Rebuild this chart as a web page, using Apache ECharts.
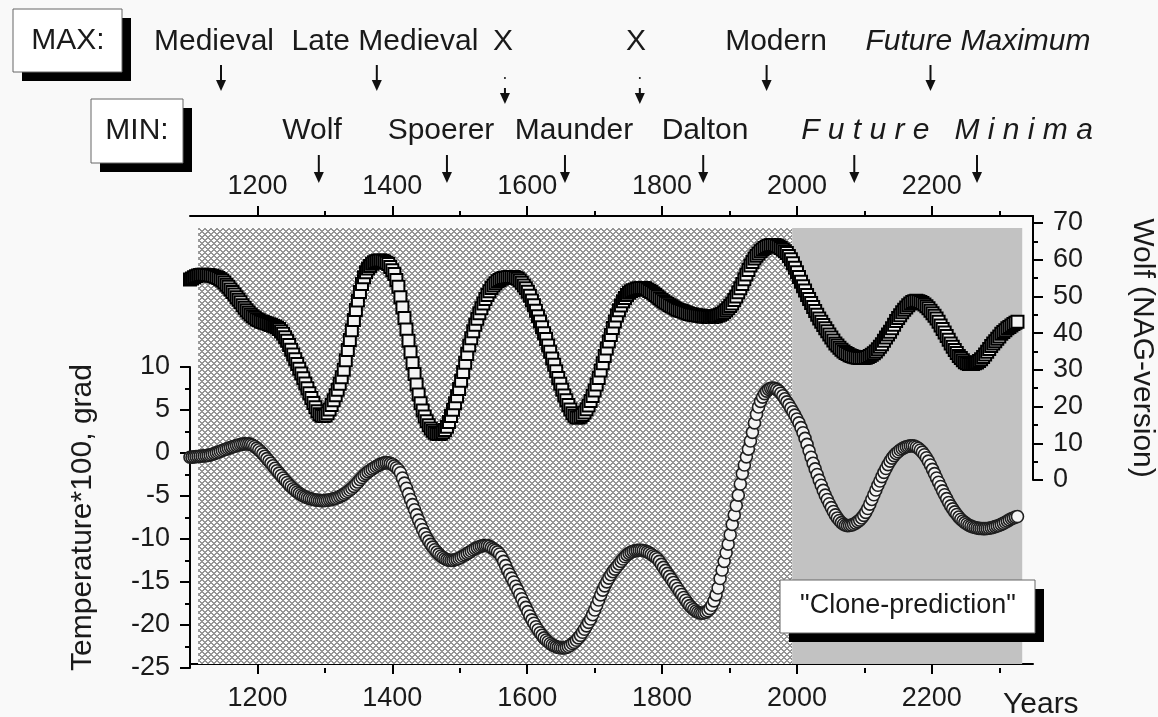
<!DOCTYPE html>
<html>
<head>
<meta charset="utf-8">
<title>Clone-prediction</title>
<script src="https://cdn.jsdelivr.net/npm/echarts@6/dist/echarts.min.js"></script>
<style>
  html, body { margin: 0; padding: 0; background: #f9f9f9; }
  #chart { width: 1158px; height: 717px; }
</style>
</head>
<body>
<div id="chart"></div>
<script>
// one reading every 3 years, 1100 .. 2327
const startYear = 1100;
const yearStep = 3;

// Wolf number (NAG-version), right axis
const wolf = [
  54.6, 54.9, 55.2, 55.5, 55.7, 55.8, 55.9, 55.9, 55.8, 55.8,
  55.7, 55.6, 55.4, 55.2, 55.0, 54.7, 54.3, 53.8, 53.2, 52.6,
  51.9, 51.2, 50.5, 49.8, 49.1, 48.4, 47.6, 46.9, 46.2, 45.6,
  45.1, 44.6, 44.2, 43.8, 43.5, 43.2, 43.0, 42.8, 42.6, 42.4,
  42.2, 42.0, 41.8, 41.5, 41.1, 40.5, 39.8, 38.9, 37.9, 36.8,
  35.5, 34.2, 32.9, 31.6, 30.3, 29.0, 27.7, 26.3, 25.0, 23.6,
  22.3, 21.0, 19.8, 18.7, 17.9, 17.5, 17.4, 17.6, 18.2, 19.2,
  20.4, 21.7, 23.1, 24.6, 26.2, 28.0, 30.0, 32.6, 35.4, 38.1,
  40.8, 43.6, 46.3, 48.9, 51.2, 53.4, 55.2, 56.6, 57.6, 58.3,
  58.9, 59.3, 59.6, 59.7, 59.8, 59.7, 59.5, 59.2, 58.8, 58.0,
  57.1, 56.1, 54.5, 52.6, 49.8, 47.0, 44.1, 41.0, 37.9, 34.8,
  31.8, 28.9, 26.0, 23.3, 20.9, 18.9, 17.3, 16.0, 14.9, 14.0,
  13.4, 12.9, 12.6, 12.5, 12.6, 13.0, 13.6, 14.5, 15.8, 17.4,
  19.1, 20.9, 22.8, 24.8, 27.0, 29.4, 31.9, 34.3, 36.6, 38.6,
  40.5, 42.3, 43.9, 45.4, 46.8, 48.1, 49.3, 50.4, 51.4, 52.3,
  53.0, 53.6, 54.1, 54.5, 54.8, 55.0, 55.1, 55.2, 55.3, 55.3,
  55.3, 55.1, 54.8, 54.3, 53.7, 53.0, 52.2, 51.3, 50.2, 48.9,
  47.6, 46.1, 44.6, 43.2, 41.6, 40.0, 38.4, 36.6, 34.9, 33.1,
  31.4, 29.6, 27.8, 26.2, 24.6, 23.0, 21.7, 20.4, 19.2, 18.2,
  17.5, 17.0, 17.0, 17.2, 17.7, 18.4, 19.3, 20.3, 21.5, 22.9,
  24.4, 26.0, 27.8, 29.8, 31.8, 33.8, 35.8, 37.7, 39.5, 41.4,
  43.2, 44.8, 46.2, 47.5, 48.7, 49.6, 50.4, 51.0, 51.4, 51.7,
  51.9, 52.1, 52.2, 52.3, 52.3, 52.2, 51.9, 51.5, 51.2, 50.8,
  50.4, 50.0, 49.5, 49.1, 48.7, 48.3, 48.0, 47.6, 47.3, 47.0,
  46.7, 46.4, 46.2, 46.0, 45.8, 45.6, 45.4, 45.2, 45.1, 45.0,
  44.9, 44.8, 44.7, 44.6, 44.5, 44.5, 44.4, 44.4, 44.4, 44.5,
  44.6, 44.8, 45.0, 45.3, 45.7, 46.2, 46.8, 47.4, 48.1, 49.0,
  50.0, 51.1, 52.2, 53.4, 54.7, 56.0, 57.2, 58.4, 59.4, 60.3,
  61.1, 61.7, 62.3, 62.8, 63.2, 63.5, 63.8, 63.9, 64.0, 64.0,
  63.8, 63.6, 63.2, 62.8, 62.3, 61.8, 61.0, 60.1, 59.0, 57.8,
  56.6, 55.3, 54.0, 52.8, 51.6, 50.4, 49.3, 48.2, 47.1, 46.0,
  45.0, 44.0, 43.1, 42.2, 41.3, 40.5, 39.6, 38.8, 38.0, 37.2,
  36.6, 36.0, 35.5, 35.0, 34.6, 34.3, 34.0, 33.8, 33.6, 33.4,
  33.3, 33.2, 33.2, 33.2, 33.3, 33.5, 33.8, 34.1, 34.5, 35.0,
  35.6, 36.3, 37.0, 37.9, 38.8, 39.6, 40.4, 41.3, 42.3, 43.3,
  44.1, 44.9, 45.7, 46.4, 47.0, 47.6, 48.1, 48.5, 48.7, 48.8,
  48.7, 48.5, 48.2, 47.8, 47.3, 46.8, 46.1, 45.4, 44.7, 44.0,
  43.1, 42.1, 41.1, 40.2, 39.2, 38.2, 37.2, 36.3, 35.4, 34.6,
  33.8, 33.2, 32.6, 32.1, 31.8, 31.6, 31.6, 31.6, 31.8, 32.0,
  32.4, 32.9, 33.5, 34.2, 34.9, 35.7, 36.5, 37.2, 37.8, 38.5,
  39.1, 39.8, 40.3, 40.8, 41.3, 41.7, 42.1, 42.5, 42.8, 43.1
];

// Temperature*100, grad, left axis
const temperature = [
  -0.5, -0.48, -0.45, -0.42, -0.4, -0.37, -0.35, -0.33, -0.3, -0.28,
  -0.22, -0.15, -0.07, 0.02, 0.11, 0.2, 0.29, 0.38, 0.46, 0.55,
  0.63, 0.71, 0.79, 0.86, 0.93, 0.99, 1.03, 1.06, 1.07, 1.06,
  1.0, 0.9, 0.75, 0.57, 0.37, 0.15, -0.1, -0.37, -0.65, -0.93,
  -1.2, -1.49, -1.78, -2.06, -2.34, -2.62, -2.9, -3.17, -3.43, -3.7,
  -3.93, -4.15, -4.35, -4.53, -4.7, -4.85, -4.98, -5.1, -5.2, -5.28,
  -5.35, -5.41, -5.46, -5.5, -5.53, -5.54, -5.54, -5.52, -5.49, -5.45,
  -5.4, -5.34, -5.27, -5.18, -5.07, -4.95, -4.81, -4.65, -4.48, -4.3,
  -4.1, -3.88, -3.64, -3.38, -3.1, -2.85, -2.6, -2.4, -2.2, -2.04,
  -1.88, -1.72, -1.57, -1.44, -1.32, -1.22, -1.15, -1.12, -1.13, -1.2,
  -1.3, -1.5, -1.72, -1.95, -2.3, -2.9, -3.5, -4.1, -4.75, -5.4,
  -6.0, -6.6, -7.2, -7.8, -8.35, -8.9, -9.4, -9.85, -10.25, -10.62,
  -10.95, -11.25, -11.52, -11.76, -11.97, -12.15, -12.3, -12.4, -12.47, -12.5,
  -12.48, -12.42, -12.34, -12.24, -12.12, -11.98, -11.84, -11.7, -11.55, -11.4,
  -11.25, -11.12, -11.0, -10.9, -10.82, -10.77, -10.75, -10.77, -10.85, -11.0,
  -11.15, -11.3, -11.5, -11.75, -12.1, -12.6, -13.1, -13.65, -14.1, -14.55,
  -15.0, -15.5, -15.95, -16.45, -16.95, -17.45, -17.95, -18.45, -18.95, -19.4,
  -19.8, -20.2, -20.55, -20.9, -21.2, -21.5, -21.75, -21.95, -22.15, -22.3,
  -22.42, -22.52, -22.6, -22.65, -22.68, -22.66, -22.6, -22.5, -22.35, -22.15,
  -22.0, -21.78, -21.5, -21.2, -20.85, -20.5, -20.1, -19.7, -19.3, -18.8,
  -18.25, -17.7, -17.1, -16.5, -15.95, -15.45, -14.98, -14.55, -14.15, -13.8,
  -13.5, -13.2, -12.9, -12.6, -12.32, -12.07, -11.85, -11.67, -11.53, -11.43,
  -11.36, -11.32, -11.3, -11.3, -11.33, -11.4, -11.5, -11.62, -11.78, -11.95,
  -12.1, -12.3, -12.6, -12.95, -13.3, -13.65, -14.0, -14.35, -14.7, -15.05,
  -15.4, -15.75, -16.1, -16.45, -16.8, -17.12, -17.45, -17.75, -18.0, -18.2,
  -18.38, -18.52, -18.6, -18.63, -18.6, -18.5, -18.35, -18.1, -17.7, -17.2,
  -16.5, -15.7, -14.6, -13.6, -12.6, -11.6, -10.6, -9.5, -8.3, -7.2,
  -6.1, -4.9, -3.6, -2.4, -1.4, -0.45, 0.45, 1.4, 2.4, 3.5,
  4.5, 5.35, 6.0, 6.5, 6.9, 7.2, 7.4, 7.52, 7.56, 7.52,
  7.4, 7.22, 6.95, 6.65, 6.3, 5.95, 5.6, 5.2, 4.8, 4.4,
  3.95, 3.5, 2.95, 2.35, 1.7, 1.0, 0.25, -0.5, -1.2, -1.85,
  -2.5, -3.15, -3.75, -4.35, -4.9, -5.4, -5.9, -6.35, -6.8, -7.2,
  -7.55, -7.85, -8.1, -8.28, -8.4, -8.45, -8.43, -8.38, -8.28, -8.15,
  -7.98, -7.8, -7.55, -7.25, -6.9, -6.45, -5.95, -5.4, -4.85, -4.3,
  -3.75, -3.25, -2.75, -2.25, -1.8, -1.35, -0.95, -0.6, -0.3, -0.05,
  0.15, 0.35, 0.5, 0.62, 0.72, 0.79, 0.83, 0.84, 0.8, 0.7,
  0.55, 0.35, 0.1, -0.2, -0.55, -0.95, -1.4, -1.9, -2.4, -2.9,
  -3.4, -3.9, -4.4, -4.85, -5.3, -5.75, -6.15, -6.5, -6.85, -7.15,
  -7.45, -7.7, -7.9, -8.1, -8.25, -8.4, -8.5, -8.6, -8.67, -8.72,
  -8.76, -8.78, -8.79, -8.79, -8.78, -8.75, -8.7, -8.64, -8.56, -8.48,
  -8.4, -8.3, -8.18, -8.05, -7.92, -7.78, -7.65, -7.55, -7.45, -7.38
];

// axis ticks
const yearTicks = [1200, 1400, 1600, 1800, 2000, 2200];
const yearMinorTicks = [1300, 1500, 1700, 1900, 2100, 2300];
const wolfTicks = [0, 10, 20, 30, 40, 50, 60, 70];
const wolfMinorTicks = [5, 15, 25, 35, 45, 55, 65];

// hatched = reconstruction, gray = "clone-prediction"
const historyStart = 1112;
const predictionStart = 1993;
const predictionEnd = 2334;

// arrows above the chart (years they point to)
const maxArrowYears = [1146, 1377, 1955, 2198];
const xArrowYears = [1567, 1767];
const minArrowYears = [1291, 1481, 1656, 1861, 2085, 2267];

const FONT = '"Liberation Sans", Arial, sans-serif';
const INK = '#1a1a1a';

// cross-hatch tile for the reconstructed period (pixel lattice, 6px period)
const makeHatch = () => {
  const s = 6;
  const c = document.createElement('canvas');
  c.width = s;
  c.height = s;
  const g = c.getContext('2d');
  for (let i = 0; i < s; i++) {
    for (let j = 0; j < s; j++) {
      const a = ((i - j) % s + s) % s;
      const b = (i + j) % s;
      g.fillStyle = (a < 2 || b < 2) ? '#959595' : '#fdfdfd';
      g.fillRect(i, j, 1, 1);
    }
  }
  return c;
};

const toPairs = (arr) => arr.map((v, i) => [startYear + i * yearStep, v]);

const chartDom = document.getElementById('chart');
const chart = echarts.init(chartDom, null, { renderer: 'canvas' });

const tickStyle = { color: '#000', width: 2 };
const labelStyle = { fontSize: 27, color: INK, fontFamily: FONT, formatter: (v) => String(v) };
const xBase = { type: 'value', min: 1100, max: 2350, splitLine: { show: false } };
const gridBase = { left: 190, right: 125, containLabel: false, outerBoundsMode: 'none' };

const option = {
  backgroundColor: '#f9f9f9',
  animation: false,
  grid: [
    { ...gridBase, top: 216, bottom: 49 },
    { ...gridBase, top: 367, bottom: 49 },
    { ...gridBase, top: 216, bottom: 237 }
  ],
  xAxis: [
    {
      ...xBase, gridIndex: 0, position: 'bottom',
      axisLine: { lineStyle: tickStyle },
      axisTick: { customValues: yearTicks, length: 10, lineStyle: tickStyle },
      axisLabel: { customValues: yearTicks, margin: 17, ...labelStyle }
    },
    {
      ...xBase, gridIndex: 0, position: 'top',
      axisLine: { lineStyle: tickStyle },
      axisTick: { customValues: yearTicks, length: 10, lineStyle: tickStyle },
      axisLabel: { customValues: yearTicks, margin: 16, ...labelStyle }
    },
    {
      ...xBase, gridIndex: 0, position: 'bottom',
      axisLine: { show: false },
      axisTick: { customValues: yearMinorTicks, length: 5, lineStyle: tickStyle },
      axisLabel: { show: false }
    },
    {
      ...xBase, gridIndex: 0, position: 'top',
      axisLine: { show: false },
      axisTick: { customValues: yearMinorTicks, length: 5, lineStyle: tickStyle },
      axisLabel: { show: false }
    },
    { ...xBase, gridIndex: 1, show: false },
    { ...xBase, gridIndex: 2, show: false }
  ],
  yAxis: [
    { type: 'value', gridIndex: 0, show: false, min: -0.0092, max: 1.0275 },
    {
      type: 'value', gridIndex: 1, position: 'left',
      min: -25, max: 10, interval: 5,
      splitLine: { show: false },
      axisLine: { show: true, lineStyle: tickStyle },
      axisTick: { show: true, length: 10, lineStyle: tickStyle },
      minorTick: { show: true, splitNumber: 2, length: 5, lineStyle: tickStyle },
      axisLabel: { margin: 20, ...labelStyle },
      name: 'Temperature*100, grad',
      nameLocation: 'middle',
      nameRotate: 90,
      nameGap: 92,
      nameTextStyle: { fontSize: 30, color: INK, fontFamily: FONT }
    },
    {
      type: 'value', gridIndex: 2, position: 'right',
      min: 0, max: 71.9,
      splitLine: { show: false },
      axisLine: { show: true, lineStyle: tickStyle },
      axisTick: { show: true, customValues: wolfTicks, length: 10, lineStyle: tickStyle },
      axisLabel: { customValues: wolfTicks, margin: 20, ...labelStyle },
      name: 'Wolf (NAG-version)',
      nameLocation: 'middle',
      nameRotate: -90,
      nameGap: 94,
      nameTextStyle: { fontSize: 30, color: INK, fontFamily: FONT }
    },
    {
      type: 'value', gridIndex: 2, position: 'right',
      min: 0, max: 71.9,
      splitLine: { show: false },
      axisLine: { show: false },
      axisTick: { show: true, customValues: wolfMinorTicks, length: 5, lineStyle: tickStyle },
      axisLabel: { show: false }
    }
  ],
  series: [
    {
      name: 'periods',
      type: 'scatter',
      xAxisIndex: 0,
      yAxisIndex: 0,
      data: [],
      z: 1,
      silent: true,
      markArea: {
        silent: true,
        data: [
          [
            { xAxis: historyStart, yAxis: 0, itemStyle: { color: { image: makeHatch(), repeat: 'repeat' }, opacity: 1 } },
            { xAxis: predictionStart, yAxis: 1 }
          ],
          [
            { xAxis: predictionStart, yAxis: 0, itemStyle: { color: '#c2c2c2', opacity: 1 } },
            { xAxis: predictionEnd, yAxis: 1 }
          ]
        ]
      }
    },
    {
      name: 'Wolf',
      type: 'scatter',
      xAxisIndex: 5,
      yAxisIndex: 2,
      data: toPairs(wolf),
      symbol: 'rect',
      symbolSize: 12,
      clip: false,
      silent: true,
      z: 3,
      itemStyle: { color: '#f4f4f4', borderColor: '#000', borderWidth: 2, opacity: 1 }
    },
    {
      name: 'Temperature',
      type: 'scatter',
      xAxisIndex: 4,
      yAxisIndex: 1,
      data: toPairs(temperature),
      symbol: 'circle',
      symbolSize: 12,
      clip: false,
      silent: true,
      z: 3,
      itemStyle: { color: '#f4f4f4', borderColor: '#1e1e1e', borderWidth: 1.6, opacity: 1 }
    }
  ]
};

chart.setOption(option);

// annotation layer: labels, shadow boxes, arrows
const arrow = (x, y0, y1) => ({
  type: 'group',
  z: 100,
  children: [
    { type: 'line', shape: { x1: x, y1: y0, x2: x, y2: y1 - 9 }, style: { stroke: '#111', lineWidth: 2 } },
    { type: 'polygon', shape: { points: [[x - 5, y1 - 11], [x + 5, y1 - 11], [x, y1]] }, style: { fill: '#111' } }
  ]
});

const label = (text, x, y, size, italic) => ({
  type: 'text',
  z: 100,
  x: x,
  y: y,
  style: {
    text: text,
    font: (italic ? 'italic ' : '') + size + 'px ' + FONT,
    fill: INK,
    align: 'center',
    verticalAlign: 'middle'
  }
});

const shadowBox = (x, y, w, h) => ([
  { type: 'rect', z: 99, shape: { x: x + 9, y: y + 9, width: w, height: h }, style: { fill: '#000' } },
  { type: 'rect', z: 99, shape: { x: x, y: y, width: w, height: h }, style: { fill: '#fff', stroke: '#666', lineWidth: 1 } }
]);

const px = (year) => chart.convertToPixel({ xAxisIndex: 0 }, year);

const graphics = [
  ...shadowBox(13, 9, 109, 63),
  label('MAX:', 68, 41, 30),
  ...shadowBox(91, 99, 92, 64),
  label('MIN:', 137, 131, 30),
  label('Medieval', 214, 42, 30),
  label('Late Medieval', 385, 42, 30),
  label('X', 503, 42, 30),
  label('X', 636, 42, 30),
  label('Modern', 776, 42, 30),
  label('Future Maximum', 978, 42, 30, true),
  label('Wolf', 312, 131, 30),
  label('Spoerer', 441, 131, 30),
  label('Maunder', 574, 131, 30),
  label('Dalton', 705, 131, 30),
  label('F u t u r e   M i n i m a', 947, 131, 30, true),
  ...shadowBox(780, 580, 255, 53),
  label('"Clone-prediction"', 908, 606, 27),
  {
    type: 'text', z: 100, x: 1003, y: 705,
    style: { text: 'Years', font: '30px ' + FONT, fill: INK, align: 'left', verticalAlign: 'middle' }
  }
];

maxArrowYears.forEach((y) => graphics.push(arrow(px(y), 65, 91)));
minArrowYears.forEach((y) => graphics.push(arrow(px(y), 155, 183)));
xArrowYears.forEach((y) => {
  const x = px(y);
  graphics.push({ type: 'circle', z: 100, shape: { cx: x, cy: 78, r: 1 }, style: { fill: '#111' } });
  graphics.push(arrow(x, 88, 104));
});

chart.setOption({ graphic: graphics });

window.addEventListener('resize', () => chart.resize());
</script>
</body>
</html>
